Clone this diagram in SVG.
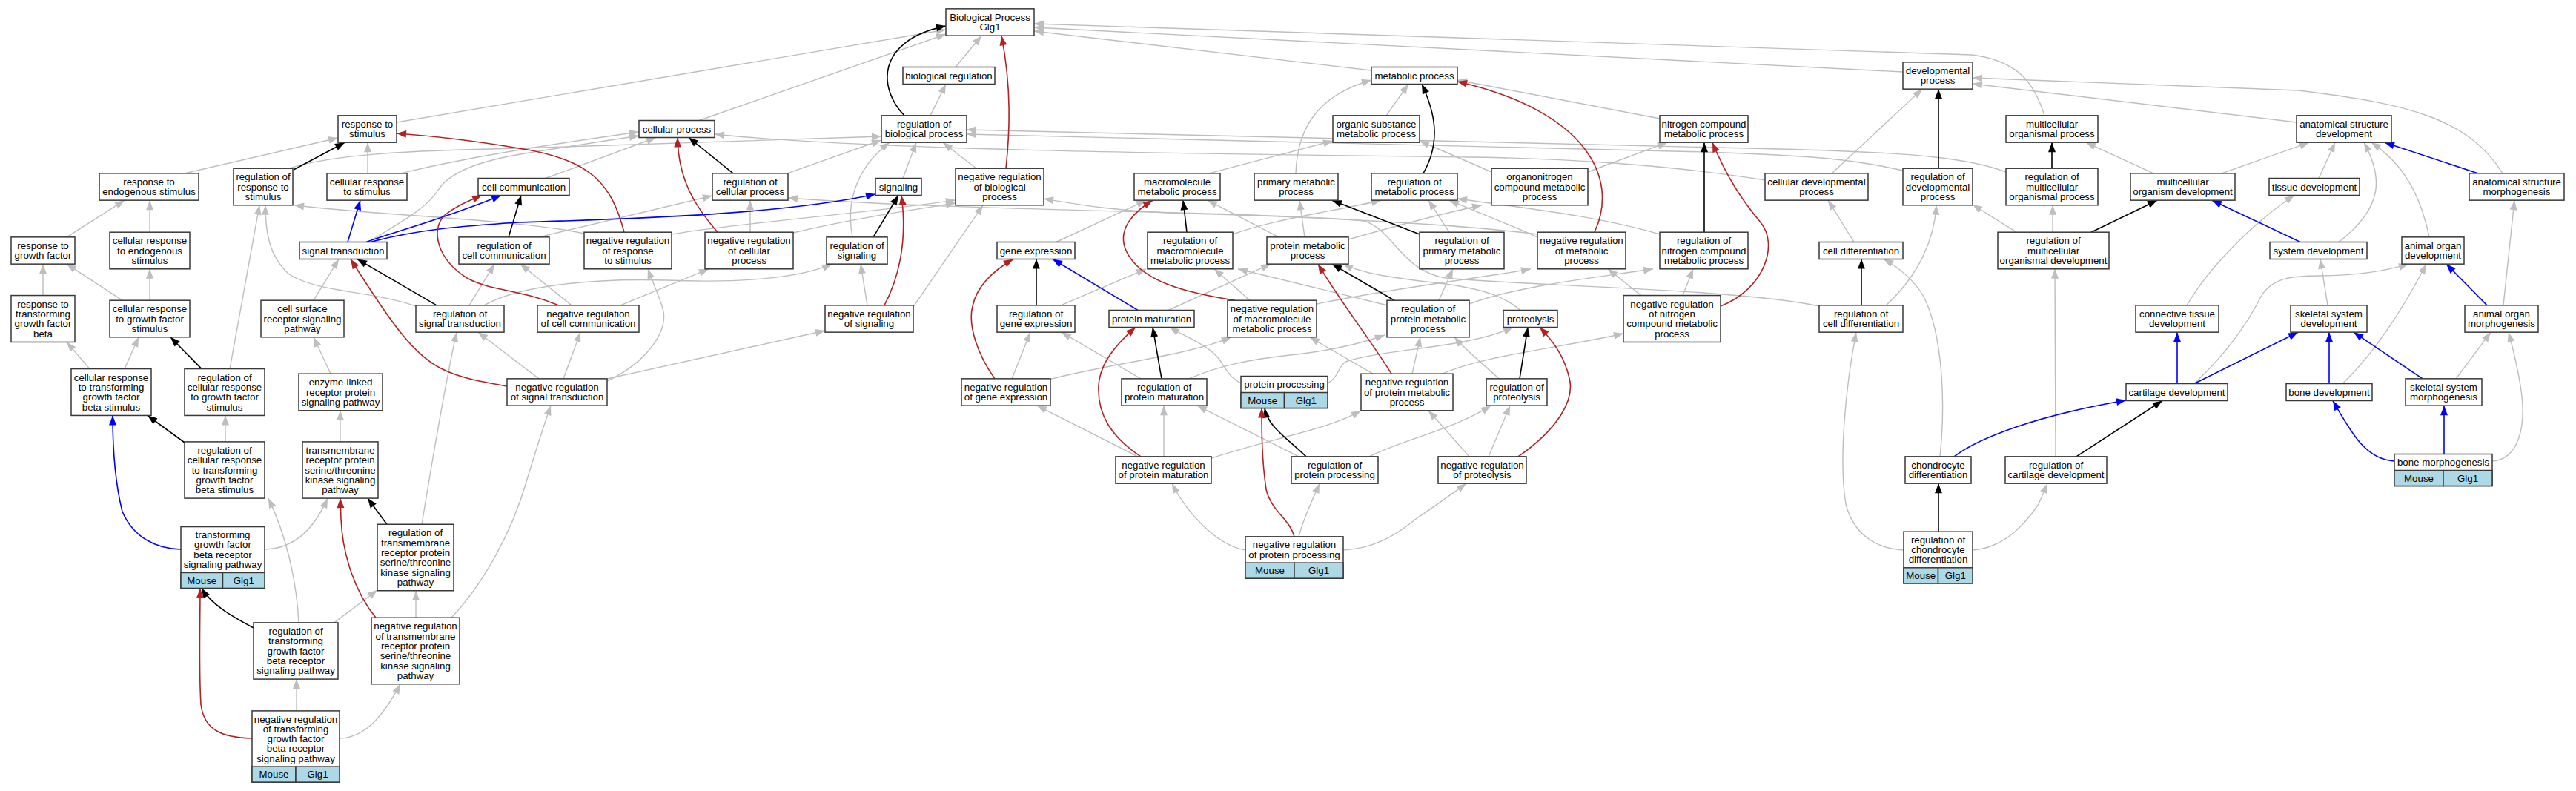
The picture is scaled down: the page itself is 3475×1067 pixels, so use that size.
<svg xmlns="http://www.w3.org/2000/svg" width="3475" height="1067" viewBox="0 0 3475 1067">
<style>
.nd rect{fill:#fff;stroke:#383838;stroke-width:1.5}
.nd rect.m{fill:#ADD8E6}
.nd text{font-family:"Liberation Sans",Arial,Helvetica,sans-serif;font-size:13.3px;text-anchor:middle;fill:#000}
.e path{fill:none;stroke-width:1.4}
.e .g{stroke:#BEBEBE;marker-end:url(#mg)}
.e .k{stroke:#000;stroke-width:1.6;marker-end:url(#mk)}
.e .b{stroke:#0000FF;stroke-width:1.6;marker-end:url(#mb)}
.e .r{stroke:#B22222;stroke-width:1.6;marker-end:url(#mr)}
</style>
<defs>
<marker id="mg" markerUnits="userSpaceOnUse" markerWidth="14" markerHeight="11" refX="13" refY="5" orient="auto" overflow="visible"><path d="M0,0L13,5L0,10z" fill="#BEBEBE"/></marker>
<marker id="mk" markerUnits="userSpaceOnUse" markerWidth="14" markerHeight="11" refX="13" refY="5" orient="auto" overflow="visible"><path d="M0,0L13,5L0,10z" fill="#000"/></marker>
<marker id="mb" markerUnits="userSpaceOnUse" markerWidth="14" markerHeight="11" refX="13" refY="5" orient="auto" overflow="visible"><path d="M0,0L13,5L0,10z" fill="#0000FF"/></marker>
<marker id="mr" markerUnits="userSpaceOnUse" markerWidth="14" markerHeight="11" refX="13" refY="5" orient="auto" overflow="visible"><path d="M0,0L13,5L0,10z" fill="#B22222"/></marker>
</defs>
<rect x="0" y="0" width="3475" height="1067" fill="#fff"/>
<g id="edges" class="e">
<path class="g" d="M1289,90.5 L1324,48.2"/>
<path class="g" d="M943,162.5 L1276,46"/>
<path class="g" d="M535,165 L1276,40"/>
<path class="g" d="M1850,95 L1395,42"/>
<path class="g" d="M2567,97 L1395,37"/>
<path class="g" d="M2758,155.9 C2745,115 2725,82 2660,74 L1395,32"/>
<path class="g" d="M3098,165 L2661,113"/>
<path class="g" d="M3376,233.9 C3330,160 3250,140 3100,122 L2661,105"/>
<path class="g" d="M2471,233.9 L2593,120.2"/>
<path class="g" d="M249,233.9 L456,186"/>
<path class="g" d="M496,233.9 L496,192.2"/>
<path class="g" d="M736,240.5 L885,185.5"/>
<path class="g" d="M540,233.9 C590,222 660,206 862,178"/>
<path class="g" d="M497,326.5 C540,300 575,282 592,255 C610,228 660,214 720,205 L862,183"/>
<path class="g" d="M2381,243 C2250,222 2100,213 1980,212 C1700,208 1200,205 964,181"/>
<path class="g" d="M390,227.2 C450,208 550,203 700,200 L1189,184"/>
<path class="g" d="M1062,233.9 L1189,189"/>
<path class="g" d="M1150,319.9 C1142,280 1150,230 1200,192.2"/>
<path class="g" d="M1218,240.5 L1236,192.2"/>
<path class="g" d="M1317,227.2 L1272,192.2"/>
<path class="g" d="M2567,230 C2500,215 2450,210 2300,205 L1304,181"/>
<path class="g" d="M2706,232 C2660,215 2600,206 2400,201 L1304,175"/>
<path class="g" d="M1255,155.9 L1276,113.5"/>
<path class="g" d="M1870,155.9 L1900,113.5"/>
<path class="g" d="M1748,233.9 C1750,170 1780,128 1850,108"/>
<path class="g" d="M2239,160 L1966,108"/>
<path class="g" d="M1631,233.9 L1798,190"/>
<path class="g" d="M2012,232 L1915,190"/>
<path class="g" d="M2142,232 L2249,192.2"/>
<path class="g" d="M2905,233.9 L2814,192.2"/>
<path class="g" d="M2997,233.9 L3115,192.2"/>
<path class="g" d="M3128,240.5 L3150,192.2"/>
<path class="g" d="M3155,326.5 C3215,280 3215,240 3189,192.2"/>
<path class="g" d="M3277,319.9 C3265,260 3240,220 3199,192.2"/>
<path class="g" d="M90,319.9 L168,270.2"/>
<path class="g" d="M202,313.2 L202,270.2"/>
<path class="g" d="M310,497.6 L350,276.8"/>
<path class="g" d="M561,413 C500,392 430,395 390,370 C362,345 358,310 358,276.8"/>
<path class="g" d="M788,315 C700,296 500,290 397,276.8"/>
<path class="g" d="M1012,313.2 L1012,270.2"/>
<path class="g" d="M727,319.9 L961,264"/>
<path class="g" d="M2454,413 C2350,390 2050,385 1950,375 C1890,365 1880,310 1840,298 C1700,285 1300,285 1063,267"/>
<path class="g" d="M1070,314 C1150,295 1220,285 1289,274"/>
<path class="g" d="M906,316 C1000,300 1150,290 1289,270"/>
<path class="g" d="M1232,414 L1326,276.8"/>
<path class="g" d="M2074,316 C1950,300 1700,290 1600,288 C1500,285 1450,275 1408,268"/>
<path class="g" d="M1425,326.5 L1546,270.2"/>
<path class="g" d="M1725,319.9 L1629,270.2"/>
<path class="g" d="M1760,319.9 L1753,270.2"/>
<path class="g" d="M1955,313.2 L1927,270.2"/>
<path class="g" d="M1663,316 C1720,295 1800,285 1863,270.2"/>
<path class="g" d="M2074,320 C2030,300 1990,285 1955,270.2"/>
<path class="g" d="M2239,316 C2150,290 2050,280 1966,268"/>
<path class="g" d="M1819,323 C1900,300 1960,285 1999,276.8"/>
<path class="g" d="M2501,326.5 L2466,270.2"/>
<path class="g" d="M2720,313.2 L2661,276"/>
<path class="g" d="M2769,313.2 L2769,276.8"/>
<path class="g" d="M2950,411.9 C2980,360 3040,300 3095,263.5"/>
<path class="g" d="M3377,411.9 L3392,270.2"/>
<path class="g" d="M58,398.6 L58,356.2"/>
<path class="g" d="M165,405.2 L90,356.2"/>
<path class="g" d="M202,405.2 L202,362.8"/>
<path class="g" d="M423,405.2 L457,349.5"/>
<path class="g" d="M633,411.9 L667,356.2"/>
<path class="g" d="M771,411.9 L702,356.2"/>
<path class="g" d="M819,514 C870,490 900,450 895,420 C890,400 880,380 874,362.8"/>
<path class="g" d="M837,411.9 L956,362.8"/>
<path class="g" d="M653,411.9 C700,385 800,375 900,378 C1000,382 1080,375 1122,356.2"/>
<path class="g" d="M1170,411.9 L1161,356.2"/>
<path class="g" d="M1431,411.9 L1546,362.8"/>
<path class="g" d="M1686,405.2 L1638,362.8"/>
<path class="g" d="M1872,412 L1670,362.8"/>
<path class="g" d="M1576,418.5 L1714,356.2"/>
<path class="g" d="M2051,418.5 C2030,400 2000,390 1950,383 C1880,375 1840,370 1812,356.2"/>
<path class="g" d="M1941,405.2 L1960,362.8"/>
<path class="g" d="M1776,410 C1900,385 2000,375 2065,362.8"/>
<path class="g" d="M2214,398.6 L2169,362.8"/>
<path class="g" d="M2270,398.6 L2284,362.8"/>
<path class="g" d="M1982,410 C2050,385 2150,375 2230,362.8"/>
<path class="g" d="M2544,411.9 C2590,370 2610,320 2612,276.8"/>
<path class="g" d="M2617,615.9 C2625,540 2620,450 2595,400 C2580,375 2560,360 2541,349.5"/>
<path class="g" d="M2773,615.9 L2772,362.8"/>
<path class="g" d="M3140,411.9 L3130,349.5"/>
<path class="g" d="M2960,517.5 C3000,480 3030,440 3050,400 C3065,375 3090,372 3130,372 C3180,372 3220,365 3249,356.2"/>
<path class="g" d="M3160,517.5 C3200,480 3240,420 3273,356.2"/>
<path class="g" d="M3313,510.9 L3360,448.2"/>
<path class="g" d="M3362,622 C3395,620 3410,580 3400,520 C3395,490 3390,470 3384,448.2"/>
<path class="g" d="M121,497.6 L90,461.5"/>
<path class="g" d="M168,497.6 L187,454.8"/>
<path class="g" d="M446,504.2 L423,454.8"/>
<path class="g" d="M727,510.9 L645,448.2"/>
<path class="g" d="M569,707.3 C580,640 600,520 616,448.2"/>
<path class="g" d="M760,510.9 L783,448.2"/>
<path class="g" d="M819,511 L1113,446"/>
<path class="g" d="M1365,510.9 L1390,448.2"/>
<path class="g" d="M1539,510.9 L1432,448.2"/>
<path class="g" d="M1674,517 C1660,510 1655,500 1645,485 C1630,465 1600,455 1578,441.5"/>
<path class="g" d="M1415,512 C1500,490 1600,480 1661,454.8"/>
<path class="g" d="M1852,504.2 L1767,454.8"/>
<path class="g" d="M1604,510.9 C1640,495 1680,485 1750,478 C1800,472 1840,462 1868,452"/>
<path class="g" d="M1905,504.2 L1916,454.8"/>
<path class="g" d="M2022,510.9 C2000,490 1980,475 1962,454.8"/>
<path class="g" d="M1791,517 C1805,510 1805,495 1815,488 C1870,470 1980,470 2041,441.5"/>
<path class="g" d="M1946,504.2 C2000,480 2100,470 2190,450"/>
<path class="g" d="M1634,618 C1720,590 1790,580 1836,553.8"/>
<path class="g" d="M1982,615.9 L1927,553.8"/>
<path class="g" d="M2008,615.9 L2037,547.2"/>
<path class="g" d="M1847,615.9 C1900,590 1960,580 2011,547.2"/>
<path class="g" d="M1535,615.9 L1399,547.2"/>
<path class="g" d="M1570,615.9 L1570,547.2"/>
<path class="g" d="M1752,615.9 L1615,547.2"/>
<path class="g" d="M304,595.9 L304,560.5"/>
<path class="g" d="M459,595.9 L459,553.8"/>
<path class="g" d="M1680,742 C1640,735 1600,690 1581,652.2"/>
<path class="g" d="M1752,723.9 C1758,700 1768,680 1780,652.2"/>
<path class="g" d="M1812,742 C1850,740 1880,725 1910,700 C1940,680 1960,665 1978,652.2"/>
<path class="g" d="M2568,742 C2530,740 2500,720 2490,680 C2480,620 2490,520 2504,448.2"/>
<path class="g" d="M2661,742 C2700,740 2730,710 2750,680 L2762,652.2"/>
<path class="g" d="M403,839.9 C400,780 385,720 362,672.1"/>
<path class="g" d="M357,741 C400,740 425,710 442,672.1"/>
<path class="g" d="M451,839.9 L509,796"/>
<path class="g" d="M561,833.3 L561,796.8"/>
<path class="g" d="M609,833.3 C650,790 690,720 710,650 C725,600 735,570 743,547.2"/>
<path class="g" d="M400,958.9 L400,916.1"/>
<path class="g" d="M458,996 C490,995 515,970 540,922.8"/>
<path class="k" d="M1220,155.9 C1185,120 1180,55 1276,35"/>
<path class="k" d="M396,229 L465,192.2"/>
<path class="k" d="M989,233.9 L929,185.5"/>
<path class="k" d="M2615,227.2 L2615,120.2"/>
<path class="k" d="M1920,233.9 C1945,190 1935,150 1918,113.5"/>
<path class="k" d="M2299,313.2 L2299,192.2"/>
<path class="k" d="M2768,227.2 L2768,192.2"/>
<path class="k" d="M686,319.9 L703,263.5"/>
<path class="k" d="M1601,313.2 L1596,270.2"/>
<path class="k" d="M1915,316 L1797,270.2"/>
<path class="k" d="M2821,313.2 L2910,270.2"/>
<path class="k" d="M589,411.9 L482,349.5"/>
<path class="k" d="M1178,319.9 L1212,263.5"/>
<path class="k" d="M1398,411.9 L1398,349.5"/>
<path class="k" d="M1881,405.2 L1797,356.2"/>
<path class="k" d="M2511,411.9 L2511,349.5"/>
<path class="k" d="M272,497.6 L230,454.8"/>
<path class="k" d="M1567,510.9 L1555,441.5"/>
<path class="k" d="M2050,510.9 L2061,441.5"/>
<path class="k" d="M1762,615.9 C1735,590 1710,575 1706,550.5"/>
<path class="k" d="M2801,615.9 L2917,540.5"/>
<path class="k" d="M249,597 L199,560.5"/>
<path class="k" d="M2615,717.2 L2615,652.2"/>
<path class="k" d="M522,707.3 L496,672.1"/>
<path class="k" d="M342,847 C310,830 285,815 272,793.5"/>
<path class="b" d="M3343,233.9 L3217,192.2"/>
<path class="b" d="M469,326.5 L486,270.2"/>
<path class="b" d="M494,326.5 C540,310 600,295 676,263.5"/>
<path class="b" d="M500,326.5 C560,310 620,305 700,300 C850,295 1050,290 1181,262"/>
<path class="b" d="M3103,326.5 L2984,270.2"/>
<path class="b" d="M1535,418.5 L1420,349.5"/>
<path class="b" d="M3355,411.9 L3300,356.2"/>
<path class="b" d="M2937,517.5 L2937,448.2"/>
<path class="b" d="M2960,517.5 L3100,448.2"/>
<path class="b" d="M3142,517.5 L3142,448.2"/>
<path class="b" d="M3268,510.9 L3175,448.2"/>
<path class="b" d="M2636,615.9 C2670,590 2750,560 2868,540"/>
<path class="b" d="M3230,622 C3190,620 3170,580 3147,540.5"/>
<path class="b" d="M3297,612.5 L3297,547.2"/>
<path class="b" d="M244,741 C210,740 180,725 165,690 C155,650 152,600 152,560.5"/>
<path class="r" d="M1357,227.2 C1362,180 1365,120 1351,48.2"/>
<path class="r" d="M842,313.2 C825,250 800,215 700,200 C640,190 580,183 535,180"/>
<path class="r" d="M968,313.2 C935,275 915,240 914,185.5"/>
<path class="r" d="M2151,313.2 C2185,240 2140,150 1966,110"/>
<path class="r" d="M2321,413 C2380,390 2400,330 2375,300 C2350,270 2330,240 2310,192.2"/>
<path class="r" d="M754,411.9 C700,390 660,392 630,375 C590,350 580,310 600,290 C615,278 630,272 650,263.5"/>
<path class="r" d="M1193,411.9 C1210,380 1225,330 1216,263.5"/>
<path class="r" d="M1342,510.9 C1320,480 1305,440 1312,413 C1318,385 1340,365 1367,349.5"/>
<path class="r" d="M1666,405.2 C1600,395 1540,380 1520,340 C1505,310 1530,285 1555,270.2"/>
<path class="r" d="M1877,504.2 C1850,460 1810,410 1778,356.2"/>
<path class="r" d="M684,521 C650,515 620,510 595,497 C560,480 530,440 473,349.5"/>
<path class="r" d="M1539,615.9 C1500,590 1480,560 1482,520 C1484,490 1505,465 1532,441.5"/>
<path class="r" d="M2048,615.9 C2100,580 2125,540 2117,510 C2110,480 2095,460 2077,441.5"/>
<path class="r" d="M1746,723.9 C1740,700 1715,690 1708,660 C1702,620 1702,580 1702,550.5"/>
<path class="r" d="M507,833.3 C480,800 462,750 460,700 L459,672.1"/>
<path class="r" d="M340,996 C300,995 275,985 271,950 C268,900 270,840 270,793.5"/>
</g>
<g id="n-bp" class="nd"><rect x="1276" y="11.85" width="119" height="36.3"/><text><tspan x="1335.5" y="27.95">Biological Process</tspan><tspan x="1335.5" y="41.25">Glg1</tspan></text></g>
<g id="n-bioreg" class="nd"><rect x="1218" y="90.5" width="124" height="23"/><text x="1280" y="106.6">biological regulation</text></g>
<g id="n-metab" class="nd"><rect x="1850" y="90.5" width="116" height="23"/><text x="1908" y="106.6">metabolic process</text></g>
<g id="n-dev" class="nd"><rect x="2567" y="83.85" width="94" height="36.3"/><text><tspan x="2614" y="99.95">developmental</tspan><tspan x="2614" y="113.25">process</tspan></text></g>
<g id="n-resp" class="nd"><rect x="456" y="155.85" width="79" height="36.3"/><text><tspan x="495.5" y="171.95">response to</tspan><tspan x="495.5" y="185.25">stimulus</tspan></text></g>
<g id="n-cellproc" class="nd"><rect x="862" y="162.5" width="102" height="23"/><text x="913" y="178.6">cellular process</text></g>
<g id="n-regbio" class="nd"><rect x="1189" y="155.85" width="115" height="36.3"/><text><tspan x="1246.5" y="171.95">regulation of</tspan><tspan x="1246.5" y="185.25">biological process</tspan></text></g>
<g id="n-orgsub" class="nd"><rect x="1798" y="155.85" width="117" height="36.3"/><text><tspan x="1856.5" y="171.95">organic substance</tspan><tspan x="1856.5" y="185.25">metabolic process</tspan></text></g>
<g id="n-nitro" class="nd"><rect x="2239" y="155.85" width="119" height="36.3"/><text><tspan x="2298.5" y="171.95">nitrogen compound</tspan><tspan x="2298.5" y="185.25">metabolic process</tspan></text></g>
<g id="n-multiorg" class="nd"><rect x="2706" y="155.85" width="124" height="36.3"/><text><tspan x="2768" y="171.95">multicellular</tspan><tspan x="2768" y="185.25">organismal process</tspan></text></g>
<g id="n-anatdev" class="nd"><rect x="3098" y="155.85" width="128" height="36.3"/><text><tspan x="3162" y="171.95">anatomical structure</tspan><tspan x="3162" y="185.25">development</tspan></text></g>
<g id="n-respendo" class="nd"><rect x="134" y="233.85" width="134" height="36.3"/><text><tspan x="201" y="249.95">response to</tspan><tspan x="201" y="263.25">endogenous stimulus</tspan></text></g>
<g id="n-regresp" class="nd"><rect x="315" y="227.2" width="80" height="49.6"/><text><tspan x="355" y="243.3">regulation of</tspan><tspan x="355" y="256.6">response to</tspan><tspan x="355" y="269.9">stimulus</tspan></text></g>
<g id="n-cellresp" class="nd"><rect x="441" y="233.85" width="108" height="36.3"/><text><tspan x="495" y="249.95">cellular response</tspan><tspan x="495" y="263.25">to stimulus</tspan></text></g>
<g id="n-cellcomm" class="nd"><rect x="645" y="240.5" width="123" height="23"/><text x="706.5" y="256.6">cell communication</text></g>
<g id="n-regcell" class="nd"><rect x="961" y="233.85" width="102" height="36.3"/><text><tspan x="1012" y="249.95">regulation of</tspan><tspan x="1012" y="263.25">cellular process</tspan></text></g>
<g id="n-signaling" class="nd"><rect x="1181" y="240.5" width="62" height="23"/><text x="1212" y="256.6">signaling</text></g>
<g id="n-negbio" class="nd"><rect x="1289" y="227.2" width="119" height="49.6"/><text><tspan x="1348.5" y="243.3">negative regulation</tspan><tspan x="1348.5" y="256.6">of biological</tspan><tspan x="1348.5" y="269.9">process</tspan></text></g>
<g id="n-macro" class="nd"><rect x="1530" y="233.85" width="116" height="36.3"/><text><tspan x="1588" y="249.95">macromolecule</tspan><tspan x="1588" y="263.25">metabolic process</tspan></text></g>
<g id="n-primary" class="nd"><rect x="1692" y="233.85" width="113" height="36.3"/><text><tspan x="1748.5" y="249.95">primary metabolic</tspan><tspan x="1748.5" y="263.25">process</tspan></text></g>
<g id="n-regmetab" class="nd"><rect x="1850" y="233.85" width="116" height="36.3"/><text><tspan x="1908" y="249.95">regulation of</tspan><tspan x="1908" y="263.25">metabolic process</tspan></text></g>
<g id="n-organonitro" class="nd"><rect x="2012" y="227.2" width="130" height="49.6"/><text><tspan x="2077" y="243.3">organonitrogen</tspan><tspan x="2077" y="256.6">compound metabolic</tspan><tspan x="2077" y="269.9">process</tspan></text></g>
<g id="n-celldevproc" class="nd"><rect x="2381" y="233.85" width="139" height="36.3"/><text><tspan x="2450.5" y="249.95">cellular developmental</tspan><tspan x="2450.5" y="263.25">process</tspan></text></g>
<g id="n-regdev" class="nd"><rect x="2567" y="227.2" width="94" height="49.6"/><text><tspan x="2614" y="243.3">regulation of</tspan><tspan x="2614" y="256.6">developmental</tspan><tspan x="2614" y="269.9">process</tspan></text></g>
<g id="n-regmultiorg" class="nd"><rect x="2706" y="227.2" width="124" height="49.6"/><text><tspan x="2768" y="243.3">regulation of</tspan><tspan x="2768" y="256.6">multicellular</tspan><tspan x="2768" y="269.9">organismal process</tspan></text></g>
<g id="n-multidev" class="nd"><rect x="2874" y="233.85" width="141" height="36.3"/><text><tspan x="2944.5" y="249.95">multicellular</tspan><tspan x="2944.5" y="263.25">organism development</tspan></text></g>
<g id="n-tissue" class="nd"><rect x="3061" y="240.5" width="122" height="23"/><text x="3122" y="256.6">tissue development</text></g>
<g id="n-anatmorph" class="nd"><rect x="3331" y="233.85" width="128" height="36.3"/><text><tspan x="3395" y="249.95">anatomical structure</tspan><tspan x="3395" y="263.25">morphogenesis</tspan></text></g>
<g id="n-respgf" class="nd"><rect x="15" y="319.85" width="86" height="36.3"/><text><tspan x="58" y="335.95">response to</tspan><tspan x="58" y="349.25">growth factor</tspan></text></g>
<g id="n-cellrespendo" class="nd"><rect x="148" y="313.2" width="108" height="49.6"/><text><tspan x="202" y="329.3">cellular response</tspan><tspan x="202" y="342.6">to endogenous</tspan><tspan x="202" y="355.9">stimulus</tspan></text></g>
<g id="n-sigtrans" class="nd"><rect x="404" y="326.5" width="118" height="23"/><text x="463" y="342.6">signal transduction</text></g>
<g id="n-regcellcomm" class="nd"><rect x="619" y="319.85" width="122" height="36.3"/><text><tspan x="680" y="335.95">regulation of</tspan><tspan x="680" y="349.25">cell communication</tspan></text></g>
<g id="n-negresp" class="nd"><rect x="788" y="313.2" width="118" height="49.6"/><text><tspan x="847" y="329.3">negative regulation</tspan><tspan x="847" y="342.6">of response</tspan><tspan x="847" y="355.9">to stimulus</tspan></text></g>
<g id="n-negcell" class="nd"><rect x="951" y="313.2" width="119" height="49.6"/><text><tspan x="1010.5" y="329.3">negative regulation</tspan><tspan x="1010.5" y="342.6">of cellular</tspan><tspan x="1010.5" y="355.9">process</tspan></text></g>
<g id="n-regsig" class="nd"><rect x="1115" y="319.85" width="82" height="36.3"/><text><tspan x="1156" y="335.95">regulation of</tspan><tspan x="1156" y="349.25">signaling</tspan></text></g>
<g id="n-geneexp" class="nd"><rect x="1345" y="326.5" width="105" height="23"/><text x="1397.5" y="342.6">gene expression</text></g>
<g id="n-regmacro" class="nd"><rect x="1548" y="313.2" width="115" height="49.6"/><text><tspan x="1605.5" y="329.3">regulation of</tspan><tspan x="1605.5" y="342.6">macromolecule</tspan><tspan x="1605.5" y="355.9">metabolic process</tspan></text></g>
<g id="n-protmetab" class="nd"><rect x="1709" y="319.85" width="110" height="36.3"/><text><tspan x="1764" y="335.95">protein metabolic</tspan><tspan x="1764" y="349.25">process</tspan></text></g>
<g id="n-regprimary" class="nd"><rect x="1915" y="313.2" width="114" height="49.6"/><text><tspan x="1972" y="329.3">regulation of</tspan><tspan x="1972" y="342.6">primary metabolic</tspan><tspan x="1972" y="355.9">process</tspan></text></g>
<g id="n-negmetab" class="nd"><rect x="2074" y="313.2" width="119" height="49.6"/><text><tspan x="2133.5" y="329.3">negative regulation</tspan><tspan x="2133.5" y="342.6">of metabolic</tspan><tspan x="2133.5" y="355.9">process</tspan></text></g>
<g id="n-regnitro" class="nd"><rect x="2239" y="313.2" width="119" height="49.6"/><text><tspan x="2298.5" y="329.3">regulation of</tspan><tspan x="2298.5" y="342.6">nitrogen compound</tspan><tspan x="2298.5" y="355.9">metabolic process</tspan></text></g>
<g id="n-celldiff" class="nd"><rect x="2454" y="326.5" width="113" height="23"/><text x="2510.5" y="342.6">cell differentiation</text></g>
<g id="n-regmultidev" class="nd"><rect x="2695" y="313.2" width="150" height="49.6"/><text><tspan x="2770" y="329.3">regulation of</tspan><tspan x="2770" y="342.6">multicellular</tspan><tspan x="2770" y="355.9">organismal development</tspan></text></g>
<g id="n-sysdev" class="nd"><rect x="3062" y="326.5" width="131" height="23"/><text x="3127.5" y="342.6">system development</text></g>
<g id="n-animorgdev" class="nd"><rect x="3240" y="319.85" width="84" height="36.3"/><text><tspan x="3282" y="335.95">animal organ</tspan><tspan x="3282" y="349.25">development</tspan></text></g>
<g id="n-resptgfb" class="nd"><rect x="15" y="398.55" width="86" height="62.9"/><text><tspan x="58" y="414.65">response to</tspan><tspan x="58" y="427.95">transforming</tspan><tspan x="58" y="441.25">growth factor</tspan><tspan x="58" y="454.55">beta</tspan></text></g>
<g id="n-cellrespgf" class="nd"><rect x="148" y="405.2" width="108" height="49.6"/><text><tspan x="202" y="421.3">cellular response</tspan><tspan x="202" y="434.6">to growth factor</tspan><tspan x="202" y="447.9">stimulus</tspan></text></g>
<g id="n-cellsurf" class="nd"><rect x="352" y="405.2" width="112" height="49.6"/><text><tspan x="408" y="421.3">cell surface</tspan><tspan x="408" y="434.6">receptor signaling</tspan><tspan x="408" y="447.9">pathway</tspan></text></g>
<g id="n-regsigtrans" class="nd"><rect x="561" y="411.85" width="119" height="36.3"/><text><tspan x="620.5" y="427.95">regulation of</tspan><tspan x="620.5" y="441.25">signal transduction</tspan></text></g>
<g id="n-negcellcomm" class="nd"><rect x="725" y="411.85" width="137" height="36.3"/><text><tspan x="793.5" y="427.95">negative regulation</tspan><tspan x="793.5" y="441.25">of cell communication</tspan></text></g>
<g id="n-negsig" class="nd"><rect x="1113" y="411.85" width="119" height="36.3"/><text><tspan x="1172.5" y="427.95">negative regulation</tspan><tspan x="1172.5" y="441.25">of signaling</tspan></text></g>
<g id="n-reggeneexp" class="nd"><rect x="1345" y="411.85" width="105" height="36.3"/><text><tspan x="1397.5" y="427.95">regulation of</tspan><tspan x="1397.5" y="441.25">gene expression</tspan></text></g>
<g id="n-protmat" class="nd"><rect x="1496" y="418.5" width="115" height="23"/><text x="1553.5" y="434.6">protein maturation</text></g>
<g id="n-negmacro" class="nd"><rect x="1656" y="405.2" width="120" height="49.6"/><text><tspan x="1716" y="421.3">negative regulation</tspan><tspan x="1716" y="434.6">of macromolecule</tspan><tspan x="1716" y="447.9">metabolic process</tspan></text></g>
<g id="n-regprotmetab" class="nd"><rect x="1871" y="405.2" width="111" height="49.6"/><text><tspan x="1926.5" y="421.3">regulation of</tspan><tspan x="1926.5" y="434.6">protein metabolic</tspan><tspan x="1926.5" y="447.9">process</tspan></text></g>
<g id="n-proteolysis" class="nd"><rect x="2028" y="418.5" width="73" height="23"/><text x="2064.5" y="434.6">proteolysis</text></g>
<g id="n-negnitro" class="nd"><rect x="2190" y="398.55" width="131" height="62.9"/><text><tspan x="2255.5" y="414.65">negative regulation</tspan><tspan x="2255.5" y="427.95">of nitrogen</tspan><tspan x="2255.5" y="441.25">compound metabolic</tspan><tspan x="2255.5" y="454.55">process</tspan></text></g>
<g id="n-regcelldiff" class="nd"><rect x="2454" y="411.85" width="113" height="36.3"/><text><tspan x="2510.5" y="427.95">regulation of</tspan><tspan x="2510.5" y="441.25">cell differentiation</tspan></text></g>
<g id="n-conn" class="nd"><rect x="2881" y="411.85" width="112" height="36.3"/><text><tspan x="2937" y="427.95">connective tissue</tspan><tspan x="2937" y="441.25">development</tspan></text></g>
<g id="n-skeldev" class="nd"><rect x="3090" y="411.85" width="103" height="36.3"/><text><tspan x="3141.5" y="427.95">skeletal system</tspan><tspan x="3141.5" y="441.25">development</tspan></text></g>
<g id="n-animorgmorph" class="nd"><rect x="3325" y="411.85" width="99" height="36.3"/><text><tspan x="3374.5" y="427.95">animal organ</tspan><tspan x="3374.5" y="441.25">morphogenesis</tspan></text></g>
<g id="n-cellresptgfb" class="nd"><rect x="96" y="497.55" width="108" height="62.9"/><text><tspan x="150" y="513.65">cellular response</tspan><tspan x="150" y="526.95">to transforming</tspan><tspan x="150" y="540.25">growth factor</tspan><tspan x="150" y="553.55">beta stimulus</tspan></text></g>
<g id="n-regcellrespgf" class="nd"><rect x="249" y="497.55" width="108" height="62.9"/><text><tspan x="303" y="513.65">regulation of</tspan><tspan x="303" y="526.95">cellular response</tspan><tspan x="303" y="540.25">to growth factor</tspan><tspan x="303" y="553.55">stimulus</tspan></text></g>
<g id="n-enzyme" class="nd"><rect x="403" y="504.2" width="113" height="49.6"/><text><tspan x="459.5" y="520.3">enzyme-linked</tspan><tspan x="459.5" y="533.6">receptor protein</tspan><tspan x="459.5" y="546.9">signaling pathway</tspan></text></g>
<g id="n-negsigtrans" class="nd"><rect x="684" y="510.85" width="135" height="36.3"/><text><tspan x="751.5" y="526.95">negative regulation</tspan><tspan x="751.5" y="540.25">of signal transduction</tspan></text></g>
<g id="n-neggeneexp" class="nd"><rect x="1297" y="510.85" width="120" height="36.3"/><text><tspan x="1357" y="526.95">negative regulation</tspan><tspan x="1357" y="540.25">of gene expression</tspan></text></g>
<g id="n-regprotmat" class="nd"><rect x="1513" y="510.85" width="115" height="36.3"/><text><tspan x="1570.5" y="526.95">regulation of</tspan><tspan x="1570.5" y="540.25">protein maturation</tspan></text></g>
<g id="n-protproc" class="nd"><rect x="1674" y="507.5" width="117" height="43"/><text x="1732.5" y="523.1">protein processing</text><rect class="m" x="1674" y="529.5" width="58.5" height="21"/><rect class="m" x="1732.5" y="529.5" width="58.5" height="21"/><text x="1703.25" y="544.6">Mouse</text><text x="1761.75" y="544.6">Glg1</text></g>
<g id="n-negprotmetab" class="nd"><rect x="1836" y="504.2" width="124" height="49.6"/><text><tspan x="1898" y="520.3">negative regulation</tspan><tspan x="1898" y="533.6">of protein metabolic</tspan><tspan x="1898" y="546.9">process</tspan></text></g>
<g id="n-regproteolysis" class="nd"><rect x="2005" y="510.85" width="82" height="36.3"/><text><tspan x="2046" y="526.95">regulation of</tspan><tspan x="2046" y="540.25">proteolysis</tspan></text></g>
<g id="n-cartdev" class="nd"><rect x="2868" y="517.5" width="137" height="23"/><text x="2936.5" y="533.6">cartilage development</text></g>
<g id="n-bonedev" class="nd"><rect x="3084" y="517.5" width="116" height="23"/><text x="3142" y="533.6">bone development</text></g>
<g id="n-skelmorph" class="nd"><rect x="3245" y="510.85" width="103" height="36.3"/><text><tspan x="3296.5" y="526.95">skeletal system</tspan><tspan x="3296.5" y="540.25">morphogenesis</tspan></text></g>
<g id="n-regcellresptgfb" class="nd"><rect x="249" y="595.9" width="108" height="76.2"/><text><tspan x="303" y="612">regulation of</tspan><tspan x="303" y="625.3">cellular response</tspan><tspan x="303" y="638.6">to transforming</tspan><tspan x="303" y="651.9">growth factor</tspan><tspan x="303" y="665.2">beta stimulus</tspan></text></g>
<g id="n-tmrec" class="nd"><rect x="408" y="595.9" width="102" height="76.2"/><text><tspan x="459" y="612">transmembrane</tspan><tspan x="459" y="625.3">receptor protein</tspan><tspan x="459" y="638.6">serine/threonine</tspan><tspan x="459" y="651.9">kinase signaling</tspan><tspan x="459" y="665.2">pathway</tspan></text></g>
<g id="n-negprotmat" class="nd"><rect x="1505" y="615.85" width="129" height="36.3"/><text><tspan x="1569.5" y="631.95">negative regulation</tspan><tspan x="1569.5" y="645.25">of protein maturation</tspan></text></g>
<g id="n-regprotproc" class="nd"><rect x="1742" y="615.85" width="117" height="36.3"/><text><tspan x="1800.5" y="631.95">regulation of</tspan><tspan x="1800.5" y="645.25">protein processing</tspan></text></g>
<g id="n-negproteolysis" class="nd"><rect x="1940" y="615.85" width="119" height="36.3"/><text><tspan x="1999.5" y="631.95">negative regulation</tspan><tspan x="1999.5" y="645.25">of proteolysis</tspan></text></g>
<g id="n-chondro" class="nd"><rect x="2570" y="615.85" width="89" height="36.3"/><text><tspan x="2614.5" y="631.95">chondrocyte</tspan><tspan x="2614.5" y="645.25">differentiation</tspan></text></g>
<g id="n-regcartdev" class="nd"><rect x="2705" y="615.85" width="137" height="36.3"/><text><tspan x="2773.5" y="631.95">regulation of</tspan><tspan x="2773.5" y="645.25">cartilage development</tspan></text></g>
<g id="n-bonemorph" class="nd"><rect x="3230" y="612.5" width="132" height="43"/><text x="3296" y="628.1">bone morphogenesis</text><rect class="m" x="3230" y="634.5" width="66" height="21"/><rect class="m" x="3296" y="634.5" width="66" height="21"/><text x="3263" y="649.6">Mouse</text><text x="3329" y="649.6">Glg1</text></g>
<g id="n-tgfb" class="nd"><rect x="244" y="710.55" width="113" height="82.9"/><text><tspan x="300.5" y="726.15">transforming</tspan><tspan x="300.5" y="739.45">growth factor</tspan><tspan x="300.5" y="752.75">beta receptor</tspan><tspan x="300.5" y="766.05">signaling pathway</tspan></text><rect class="m" x="244" y="772.45" width="56.5" height="21"/><rect class="m" x="300.5" y="772.45" width="56.5" height="21"/><text x="272.25" y="787.55">Mouse</text><text x="328.75" y="787.55">Glg1</text></g>
<g id="n-regtmrec" class="nd"><rect x="509" y="707.25" width="103" height="89.5"/><text><tspan x="560.5" y="723.35">regulation of</tspan><tspan x="560.5" y="736.65">transmembrane</tspan><tspan x="560.5" y="749.95">receptor protein</tspan><tspan x="560.5" y="763.25">serine/threonine</tspan><tspan x="560.5" y="776.55">kinase signaling</tspan><tspan x="560.5" y="789.85">pathway</tspan></text></g>
<g id="n-negprotproc" class="nd"><rect x="1680" y="723.85" width="132" height="56.3"/><text><tspan x="1746" y="739.45">negative regulation</tspan><tspan x="1746" y="752.75">of protein processing</tspan></text><rect class="m" x="1680" y="759.15" width="66" height="21"/><rect class="m" x="1746" y="759.15" width="66" height="21"/><text x="1713" y="774.25">Mouse</text><text x="1779" y="774.25">Glg1</text></g>
<g id="n-regchondro" class="nd"><rect x="2568" y="717.2" width="93" height="69.6"/><text><tspan x="2614.5" y="732.8">regulation of</tspan><tspan x="2614.5" y="746.1">chondrocyte</tspan><tspan x="2614.5" y="759.4">differentiation</tspan></text><rect class="m" x="2568" y="765.8" width="46.5" height="21"/><rect class="m" x="2614.5" y="765.8" width="46.5" height="21"/><text x="2591.25" y="780.9">Mouse</text><text x="2637.75" y="780.9">Glg1</text></g>
<g id="n-regtgfb" class="nd"><rect x="342" y="839.9" width="114" height="76.2"/><text><tspan x="399" y="856">regulation of</tspan><tspan x="399" y="869.3">transforming</tspan><tspan x="399" y="882.6">growth factor</tspan><tspan x="399" y="895.9">beta receptor</tspan><tspan x="399" y="909.2">signaling pathway</tspan></text></g>
<g id="n-negtmrec" class="nd"><rect x="501" y="833.25" width="119" height="89.5"/><text><tspan x="560.5" y="849.35">negative regulation</tspan><tspan x="560.5" y="862.65">of transmembrane</tspan><tspan x="560.5" y="875.95">receptor protein</tspan><tspan x="560.5" y="889.25">serine/threonine</tspan><tspan x="560.5" y="902.55">kinase signaling</tspan><tspan x="560.5" y="915.85">pathway</tspan></text></g>
<g id="n-negtgfb" class="nd"><rect x="340" y="958.9" width="118" height="96.2"/><text><tspan x="399" y="974.5">negative regulation</tspan><tspan x="399" y="987.8">of transforming</tspan><tspan x="399" y="1001.1">growth factor</tspan><tspan x="399" y="1014.4">beta receptor</tspan><tspan x="399" y="1027.7">signaling pathway</tspan></text><rect class="m" x="340" y="1034.1" width="59" height="21"/><rect class="m" x="399" y="1034.1" width="59" height="21"/><text x="369.5" y="1049.2">Mouse</text><text x="428.5" y="1049.2">Glg1</text></g>
</svg>
